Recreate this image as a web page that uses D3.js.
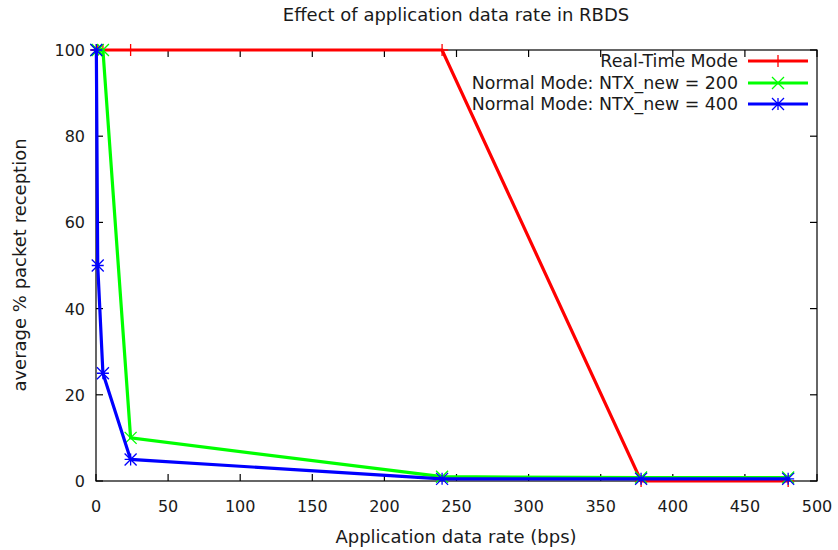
<!DOCTYPE html>
<html>
<head>
<meta charset="utf-8">
<script src="https://cdn.jsdelivr.net/npm/d3@7"></script>
<style>
body { margin: 0; background: #fff; }
svg { display: block; font-family: "DejaVu Sans", sans-serif; }
</style>
</head>
<body>
<svg id="chart" width="838" height="550"></svg>
<script>
const rates = [0.24, 1.2, 4.8, 24, 240, 378, 480];
const realTime = [100, 100, 100, 100, 100, 0, 0];
const normal200 = [100, 100, 100, 10, 1, 0.8, 0.8];
const normal400 = [100, 50, 25, 5, 0.5, 0.5, 0.5];
const seriesNames = ["Real-Time Mode", "Normal Mode: NTX_new = 200", "Normal Mode: NTX_new = 400"];
const seriesColors = ["#ff0000", "#00ff00", "#0000ff"];
const seriesMarkers = ["plus", "cross", "star"];
const xTicks = [0, 50, 100, 150, 200, 250, 300, 350, 400, 450, 500];
const yTicks = [0, 20, 40, 60, 80, 100];

const svg = d3.select("#chart");
const L = 96, R = 817, T = 50, B = 481;
const x = d3.scaleLinear().domain([0, 500]).range([L, R]);
const y = d3.scaleLinear().domain([0, 100]).range([B, T]);

const tickLen = 7;
const axisColor = "#000";
const textColor = "#1a1a1a";

// frame
svg.append("rect").attr("x", L).attr("y", T).attr("width", R - L).attr("height", B - T)
  .attr("fill", "none").attr("stroke", axisColor).attr("stroke-width", 1.2);

const xg = svg.append("g");
xTicks.forEach(t => {
  const px = x(t);
  xg.append("line").attr("x1", px).attr("x2", px).attr("y1", B).attr("y2", B - tickLen).attr("stroke", axisColor).attr("stroke-width", 1.2);
  xg.append("line").attr("x1", px).attr("x2", px).attr("y1", T).attr("y2", T + tickLen).attr("stroke", axisColor).attr("stroke-width", 1.2);
  xg.append("text").attr("x", px).attr("y", B + 31).attr("text-anchor", "middle")
    .attr("font-size", 16).attr("fill", textColor).text(t);
});
const yg = svg.append("g");
yTicks.forEach(t => {
  const py = y(t);
  yg.append("line").attr("x1", L).attr("x2", L + tickLen).attr("y1", py).attr("y2", py).attr("stroke", axisColor).attr("stroke-width", 1.2);
  yg.append("line").attr("x1", R).attr("x2", R - tickLen).attr("y1", py).attr("y2", py).attr("stroke", axisColor).attr("stroke-width", 1.2);
  yg.append("text").attr("x", L - 11).attr("y", py + 6).attr("text-anchor", "end")
    .attr("font-size", 16).attr("fill", textColor).text(t);
});

// title and labels
svg.append("text").attr("x", 456).attr("y", 21).attr("text-anchor", "middle")
  .attr("font-size", 18).attr("fill", textColor).text("Effect of application data rate in RBDS");
svg.append("text").attr("x", 456).attr("y", 543).attr("text-anchor", "middle")
  .attr("font-size", 18).attr("fill", textColor).text("Application data rate (bps)");
svg.append("text").attr("transform", "translate(25.5,265) rotate(-90)").attr("text-anchor", "middle")
  .attr("font-size", 18).attr("fill", textColor).text("average % packet reception");

function marker(g, type, cx, cy, color) {
  const s = 6;
  const p = d3.path();
  if (type === "plus" || type === "star") {
    p.moveTo(cx - s, cy); p.lineTo(cx + s, cy);
    p.moveTo(cx, cy - s); p.lineTo(cx, cy + s);
  }
  if (type === "cross" || type === "star") {
    p.moveTo(cx - s, cy - s); p.lineTo(cx + s, cy + s);
    p.moveTo(cx - s, cy + s); p.lineTo(cx + s, cy - s);
  }
  g.append("path").attr("d", p.toString()).attr("stroke", color).attr("stroke-width", 1.3).attr("fill", "none");
}

const allSeries = [realTime, normal200, normal400];
const line = d3.line().x(d => x(d[0])).y(d => y(d[1]));
allSeries.forEach((vals, i) => {
  const pts = rates.map((r, j) => [r, vals[j]]);
  const g = svg.append("g");
  g.append("path").datum(pts).attr("d", line).attr("fill", "none")
    .attr("stroke", seriesColors[i]).attr("stroke-width", 3.2).attr("stroke-linejoin", "miter");
  pts.forEach(p => marker(g, seriesMarkers[i], x(p[0]), y(p[1]), seriesColors[i]));
});

// legend
const legY = [61, 83, 104];
seriesNames.forEach((n, i) => {
  const g = svg.append("g");
  g.append("text").attr("x", 738).attr("y", legY[i] + 6).attr("text-anchor", "end")
    .attr("font-size", 17.4).attr("fill", textColor).text(n);
  g.append("line").attr("x1", 748).attr("x2", 808).attr("y1", legY[i]).attr("y2", legY[i])
    .attr("stroke", seriesColors[i]).attr("stroke-width", 3.2);
  marker(g, seriesMarkers[i], 778, legY[i], seriesColors[i]);
});
</script>
</body>
</html>
